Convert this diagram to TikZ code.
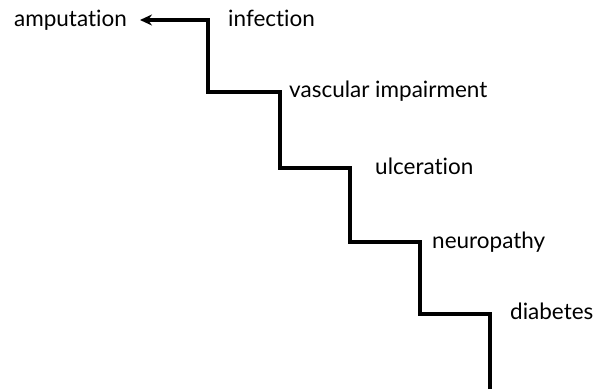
\documentclass[tikz,border=0pt]{standalone}
\usepackage{fontspec}
\setmainfont{Lato}[Ligatures=NoCommon]
\usetikzlibrary{arrows.meta,positioning}

\begin{document}
\begin{tikzpicture}[
    x=1pt, y=-1pt,
    lbl/.style={anchor=base west, inner sep=0pt, font=\fontsize{22.5}{26}\selectfont},
    stair/.style={line width=3.3pt, line join=miter}
]
    \useasboundingbox (0,0) rectangle (596,389);

    % corners of the steps
    \coordinate (bottom) at (490,389);
    \coordinate (c1) at (420,314);
    \coordinate (c2) at (350,242);
    \coordinate (c3) at (280,168);
    \coordinate (c4) at (208,92);

    \node[lbl] (diabetes) at (510,319) {diabetes};
    \node[lbl] (neuropathy) at (432,248) {neuropathy};
    \node[lbl] (ulceration) at (375,174) {ulceration};
    \node[lbl] (vascular) at (289,97) {vascular impairment};
    \node[lbl] (infection) at (228,26) {infection};
    \node[lbl, anchor=base east] (amputation) at (127,26) {amputation};
    \coordinate (tip) at (140,20);

    \draw[stair, -{Stealth[length=12pt, width=11pt]}] (bottom) |- (c1) |- (c2) |- (c3) |- (c4) |- (tip);
\end{tikzpicture}
\end{document}
